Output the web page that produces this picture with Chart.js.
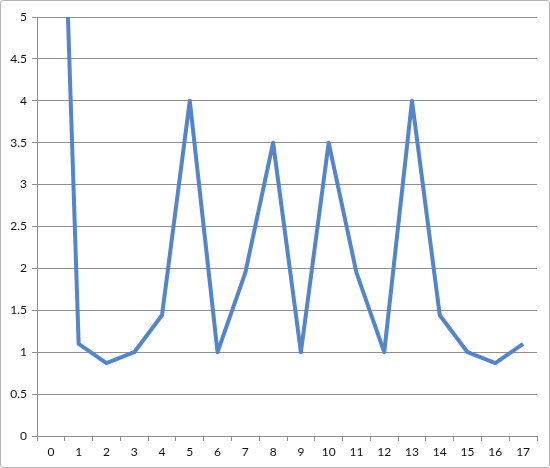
<!DOCTYPE html>
<html>
<head>
<meta charset="utf-8">
<script src="https://cdn.jsdelivr.net/npm/chart.js@4"></script>
<style>
  body { margin: 0; background: #fff; }
  #wrap { width: 548px; height: 466px; border: 1px solid #b5b5b5; border-radius: 3px; }
</style>
</head>
<body>
<div id="wrap"><canvas id="chart" width="548" height="466"></canvas></div>
<script>
// category labels along the bottom
const categories = ['0','1','2','3','4','5','6','7','8','9','10','11','12','13','14','15','16','17'];
// series values (first one runs off the top of the axis)
const values = [11.2, 1.1, 0.87, 1, 1.44, 4, 1, 1.95, 3.5, 1, 3.5, 1.95, 1, 4, 1.44, 1, 0.87, 1.1];
const yTicks = [0, 0.5, 1, 1.5, 2, 2.5, 3, 3.5, 4, 4.5, 5];

const gridGrey = '#8f8f8f';
const ctx = document.getElementById('chart').getContext('2d');

new Chart(ctx, {
  type: 'line',
  data: {
    labels: categories,
    datasets: [{
      data: values,
      borderColor: '#5385c8',
      borderWidth: 4,
      borderJoinStyle: 'round',
      pointRadius: 0,
      tension: 0,
      clip: 0,
      fill: false
    }]
  },
  options: {
    responsive: false,
    animation: false,
    layout: { padding: { top: 16, right: 12, left: 0, bottom: 0 } },
    plugins: {
      legend: { display: false },
      tooltip: { enabled: false }
    },
    scales: {
      x: {
        offset: true,
        grid: {
          offset: true,
          drawOnChartArea: false,
          drawTicks: true,
          tickLength: 5,
          color: gridGrey
        },
        border: { color: gridGrey, width: 1 },
        ticks: {
          color: '#111',
          font: { family: 'Lato', size: 12 },
          padding: 4,
          maxRotation: 0,
          autoSkip: false
        },
        afterFit: (axis) => { axis.height = 31; }
      },
      y: {
        min: 0,
        max: 5,
        afterBuildTicks: (axis) => { axis.ticks = yTicks.map(v => ({ value: v })); },
        grid: {
          color: gridGrey,
          drawTicks: true,
          tickLength: 5
        },
        border: { color: gridGrey, width: 1 },
        ticks: {
          color: '#111',
          font: { family: 'Lato', size: 12 },
          padding: 5,
          callback: (v) => String(v)
        },
        afterFit: (axis) => { axis.width = 36; }
      }
    }
  }
});
</script>
</body>
</html>
